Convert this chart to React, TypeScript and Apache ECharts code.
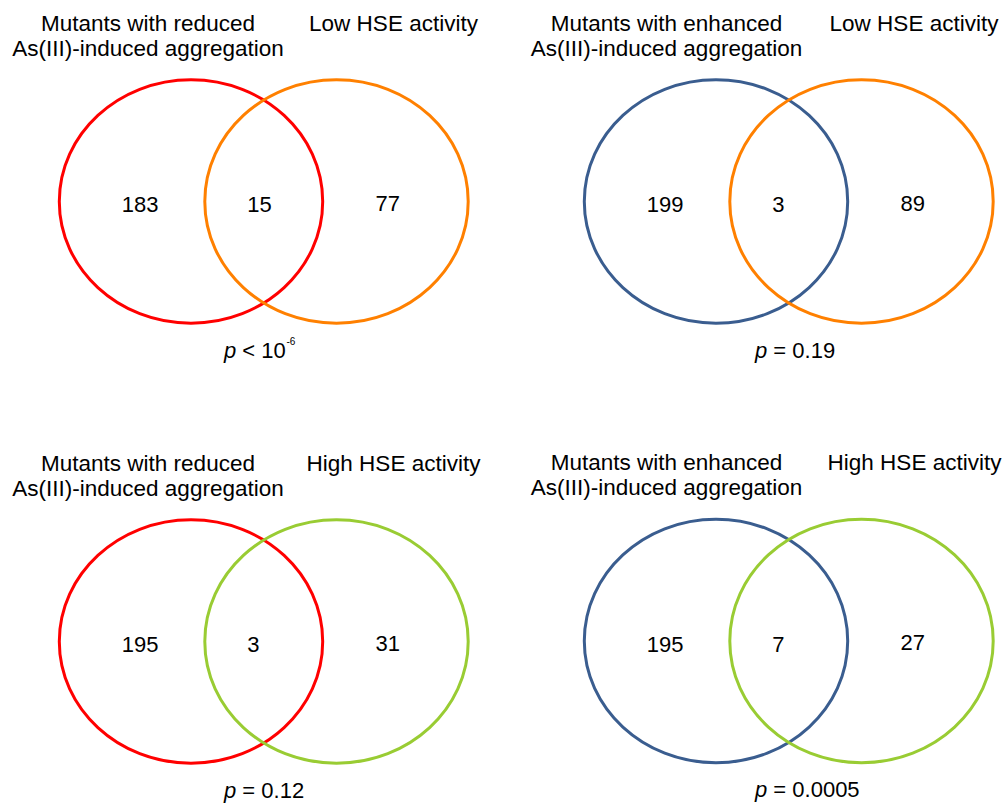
import React, { useEffect, useRef } from "react";
import * as echarts from "echarts";

// ---- data ----
const setATitles = [
  "Mutants with reduced\nAs(III)-induced aggregation",
  "Mutants with enhanced\nAs(III)-induced aggregation",
  "Mutants with reduced\nAs(III)-induced aggregation",
  "Mutants with enhanced\nAs(III)-induced aggregation",
];
const setBTitles = ["Low HSE activity", "Low HSE activity", "High HSE activity", "High HSE activity"];
const onlyA = [183, 199, 195, 195];
const overlap = [15, 3, 3, 7];
const onlyB = [77, 89, 31, 27];
const pRelation = ["<", "=", "=", "="];
const pText = ["10", "0.19", "0.12", "0.0005"];
const pExponent = ["-6", "", "", ""];

// ---- colours ----
const setAColors = ["#FF0000", "#3A5D8F", "#FF0000", "#3A5D8F"];
const setBColors = ["#FF8000", "#FF8000", "#99CC33", "#99CC33"];

// ---- layout (pixels) ----
const W = 1005;
const H = 807;
const panelX = [0, 525, 0, 525];
const panelY = [0, 0, 440, 439.5];
const leftCx = 191;
const rightCx = 336.5;
const circCy = 201.5;
const rx = 131.7;
const ry = 121.7;
const countX = [121.7, 247.3, 375.5];
const countY = [204.6, 204.6, 203.3];
const titleACx = [148, 141.5, 148, 141.5];
const titleBCx = [393.5, 389, 393.5, 389.5];
const pLeft = [224, 230, 224, 230];
const pY = 350;
const FONT = "'Liberation Sans', Arial, sans-serif";

export default function App() {
  const ref = useRef<HTMLDivElement>(null);
  useEffect(() => {
    if (!ref.current) return;
    const chart = echarts.init(ref.current, null, { renderer: "svg" });

    const ellipseData: number[][] = [];
    const countData: number[][] = [];
    for (let i = 0; i < 4; i++) {
      ellipseData.push([panelX[i] + leftCx, panelY[i] + circCy, rx * 2, ry * 2, i, 0]);
      ellipseData.push([panelX[i] + rightCx, panelY[i] + circCy, rx * 2, ry * 2, i, 1]);
      const vals = [onlyA[i], overlap[i], onlyB[i]];
      for (let k = 0; k < 3; k++) {
        countData.push([panelX[i] + countX[k], panelY[i] + countY[k], vals[k]]);
      }
    }

    const graphics: any[] = [];
    for (let i = 0; i < 4; i++) {
      graphics.push({
        type: "text",
        x: panelX[i] + titleACx[i],
        y: panelY[i] + 10.4,
        style: {
          text: setATitles[i],
          fontSize: 22.5,
          fontFamily: FONT,
          lineHeight: 25.3,
          fill: "#000",
          align: "center",
          verticalAlign: "top",
        },
      });
      graphics.push({
        type: "text",
        x: panelX[i] + titleBCx[i],
        y: panelY[i] + 10.4,
        style: {
          text: setBTitles[i],
          fontSize: 22.5,
          fontFamily: FONT,
          lineHeight: 25.3,
          fill: "#000",
          align: "center",
          verticalAlign: "top",
        },
      });
      graphics.push({
        type: "text",
        x: panelX[i] + pLeft[i],
        y: panelY[i] + pY,
        style: {
          text: "{i|p} " + pRelation[i] + " " + pText[i],
          fontSize: 22,
          fontFamily: FONT,
          fill: "#000",
          align: "left",
          verticalAlign: "middle",
          rich: {
            i: { fontStyle: "italic", fontSize: 22, fontFamily: FONT, fill: "#000" },
          },
        },
      });
      if (pExponent[i]) {
        graphics.push({
          type: "text",
          x: panelX[i] + pLeft[i] + 62.5,
          y: panelY[i] + pY - 8.5,
          style: {
            text: pExponent[i],
            fontSize: 10,
            fontFamily: FONT,
            fill: "#000",
            align: "left",
            verticalAlign: "middle",
          },
        });
      }
    }

    chart.setOption({
      animation: false,
      backgroundColor: "#ffffff",
      grid: { left: 0, top: 0, right: 0, bottom: 0 },
      xAxis: { type: "value", min: 0, max: W, show: false },
      yAxis: { type: "value", min: 0, max: H, inverse: true, show: false },
      series: [
        {
          type: "custom",
          clip: false,
          data: ellipseData,
          renderItem: (params: any, api: any) => {
            const c = api.coord([api.value(0), api.value(1)]);
            const s = api.size([api.value(2), api.value(3)], [api.value(0), api.value(1)]);
            const idx = api.value(4);
            const side = api.value(5);
            return {
              type: "ellipse",
              shape: { cx: c[0], cy: c[1], rx: s[0] / 2, ry: s[1] / 2 },
              style: {
                fill: "none",
                stroke: side === 0 ? setAColors[idx] : setBColors[idx],
                lineWidth: 3,
              },
            };
          },
        },
        {
          type: "custom",
          clip: false,
          data: countData,
          renderItem: (params: any, api: any) => {
            const c = api.coord([api.value(0), api.value(1)]);
            return {
              type: "text",
              x: c[0],
              y: c[1],
              style: {
                text: String(api.value(2)),
                fontSize: 22,
                fontFamily: FONT,
                fill: "#000",
                align: "left",
                verticalAlign: "middle",
              },
            };
          },
        },
      ],
      graphic: graphics,
    });
    return () => chart.dispose();
  }, []);
  return (
    <div
      ref={ref}
      style={{ position: "absolute", left: 0, top: 0, width: W, height: H }}
    />
  );
}
